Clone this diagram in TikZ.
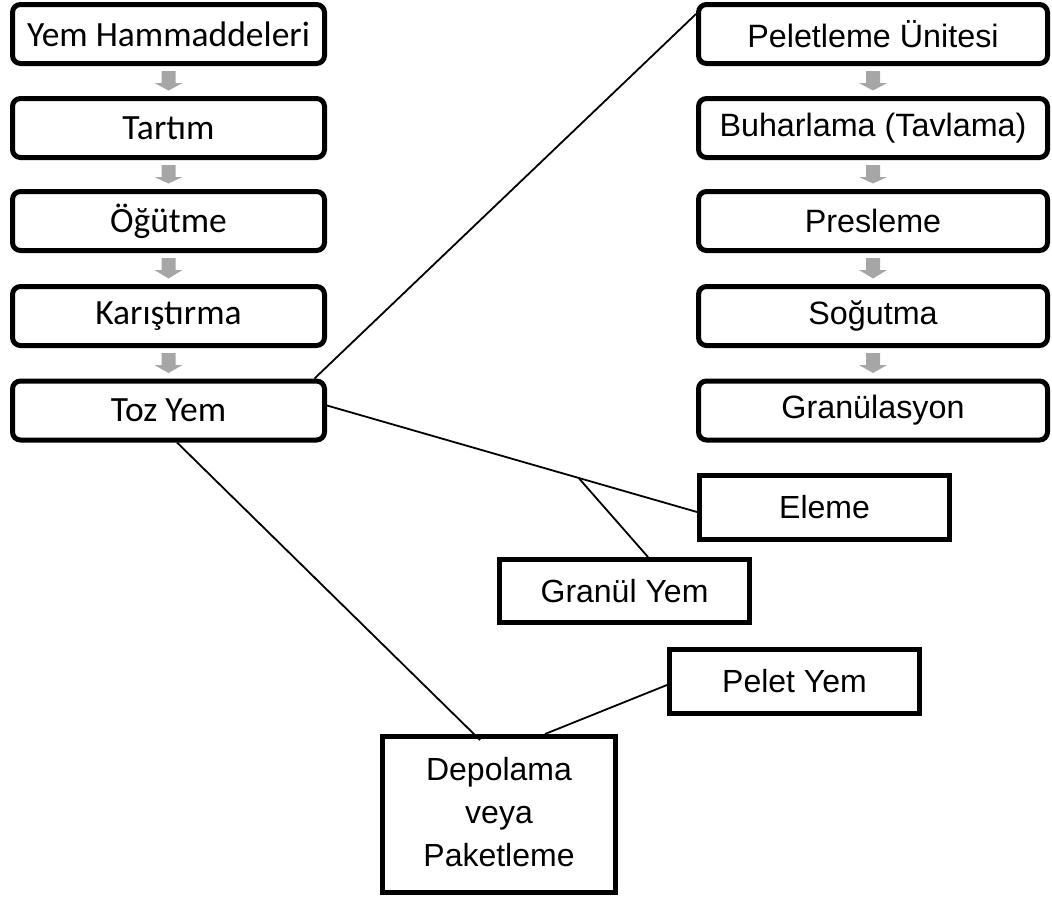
\documentclass[tikz,border=0pt]{standalone}
\usepackage{fontspec}
\newfontfamily\calfont{Carlito}
\newfontfamily\arfont{Liberation Sans}
\usetikzlibrary{calc}
\definecolor{arrowgray}{HTML}{A6A6A6}
\newcommand\grayarrow[2]{%
  \fill[arrowgray] ($(#1.south)+(-7,5)$) -- ($(#1.south)+(7,5)$) -- ($(#1.south)+(7,17)$)
    -- ($(#1.south)+(14,17)$) -- ($(#2.north)+(0,-5.5)$) -- ($(#1.south)+(-14,17)$)
    -- ($(#1.south)+(-7,17)$) -- cycle;}
\begin{document}
\begin{tikzpicture}[x=1pt,y=-1pt,
  lbox/.style={draw,line width=5pt,rounded corners=8pt,fill=white,minimum width=312pt,minimum height=59pt,inner sep=0pt,font=\calfont\fontsize{35.5}{42}\selectfont},
  rbox/.style={draw,line width=5pt,rounded corners=8pt,fill=white,minimum width=349pt,minimum height=59pt,inner sep=0pt,font=\arfont\fontsize{32.3}{38}\selectfont},
  sbox/.style={draw,line width=5pt,fill=white,minimum width=250pt,minimum height=64pt,inner sep=0pt,align=center,font=\arfont\fontsize{32}{43}\selectfont},
  conn/.style={draw,line width=1.8pt}]
\useasboundingbox (0,0) rectangle (1052,897);
% left column
\node[lbox] (yem) at (168.5,34) {Yem Hammaddeleri};
\node[lbox] (tar) at (168.5,128) {Tartım};
\node[lbox] (ogu) at (168.5,221) {Öğütme};
\node[lbox] (kar) at (168.5,316) {Karıştırma};
\node[lbox] (toz) at (168.5,410.5) {Toz Yem};
% right column
\node[rbox] (pel) at (873,34) {Peletleme Ünitesi};
\node[rbox] (buh) at (873,128) {Buharlama (Tavlama)};
\node[rbox] (pre) at (873,221) {Presleme};
\node[rbox] (sog) at (873,316) {Soğutma};
\node[rbox] (gra) at (873,410.5) {Granülasyon};
% lower boxes
\node[sbox] (ele) at (824.5,507.5) {Eleme};
\node[sbox,minimum height=63pt] (gry) at (624.5,591) {Granül Yem};
\node[sbox] (ply) at (794.5,681.5) {Pelet Yem};
\node[sbox,minimum width=233pt,minimum height=156pt] (dep) at (499,814.5) {Depolama\\veya\\Paketleme\rule[-5pt]{0pt}{5pt}};
% gray arrows
\grayarrow{yem}{tar}
\grayarrow{tar}{ogu}
\grayarrow{ogu}{kar}
\grayarrow{kar}{toz}
\grayarrow{pel}{buh}
\grayarrow{buh}{pre}
\grayarrow{pre}{sog}
\grayarrow{sog}{gra}
% connectors
\draw[conn] ([xshift=-12.5pt]toz.north east) -- ([yshift=20pt]pel.west);
\coordinate (tA) at ([yshift=5pt]toz.east);
\coordinate (eB) at ([yshift=-4.5pt]ele.west);
\coordinate (br) at ($(tA)!0.68!(eB)$);
\draw[conn] (tA) -- (eB);
\draw[conn] (br) -- ([xshift=23.5pt]gry.north);
\draw[conn] ([xshift=8.5pt]toz.south) -- ([xshift=-19pt,yshift=-6pt]dep.north);
\draw[conn] ([yshift=-3.5pt]ply.west) -- ([xshift=46pt]dep.north);
\end{tikzpicture}
\end{document}
